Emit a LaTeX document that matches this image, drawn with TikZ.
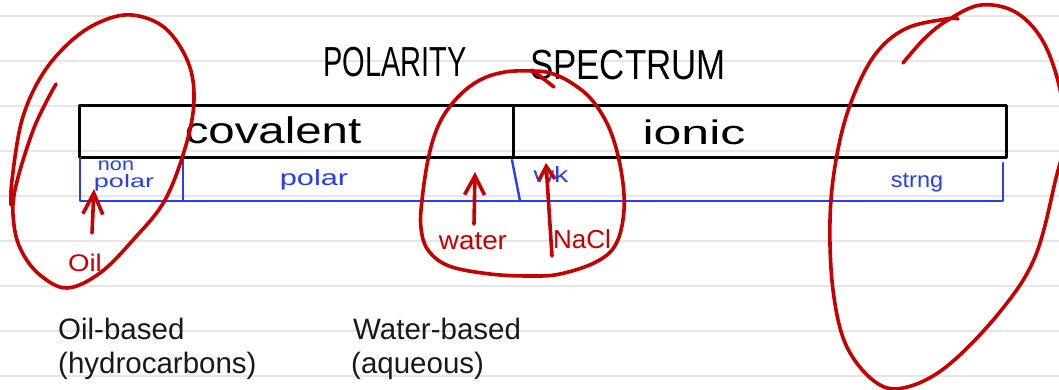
\documentclass[tikz,border=0pt]{standalone}
\usepackage{fontspec}
\setmainfont{Liberation Sans}
\usepackage{graphicx}
\usetikzlibrary{arrows.meta}
\definecolor{pen}{RGB}{200,0,0}
\definecolor{ink}{RGB}{40,60,250}
\definecolor{ruleline}{RGB}{230,230,230}
\definecolor{typed}{RGB}{25,25,25}
\newcommand{\wide}[2]{\scalebox{#1}[1]{#2}}
\begin{document}
\begin{tikzpicture}[x=1pt,y=-1pt,line join=round,line cap=round,
  ruled/.style={ruleline,line width=2pt},
  bandbox/.style={draw=black,line width=2.6pt,minimum height=52pt,inner sep=0pt,anchor=north west},
  blueline/.style={ink,line width=2.4pt},
  redpen/.style={pen,line width=3.6pt},
  hand/.style={inner sep=0pt,text=black},
  bluehand/.style={inner sep=0pt,text=ink},
  redhand/.style={inner sep=0pt,text=pen},
  typedtext/.style={inner sep=0pt,anchor=base west,text=typed,font=\fontsize{29.5}{34}\selectfont},
  redarrow/.style={redpen,-{Straight Barb[length=#1pt,width=20pt]}},
  redarrow/.default=20]
\useasboundingbox (0,0) rectangle (1059,390);
\fill[white] (0,0) rectangle (1059,390);
% ruled paper
\foreach \yy in {16,61,106,151,196,241,286,331,376}
  \draw[ruled] (0,\yy) -- (1059,\yy);
% title
\node[hand,anchor=base,font=\fontsize{42}{46}\selectfont] (title1) at (395,77) {\wide{0.69}{POLARITY}};
\node[hand,anchor=base,font=\fontsize{42}{46}\selectfont] (title2) at (628,80) {\wide{0.83}{SPECTRUM}};
% covalent / ionic band
\node[bandbox,minimum width=434pt] (cov) at (78,104) {};
\node[bandbox,minimum width=493pt] (ion) at (512,104) {};
\node[hand,anchor=base,font=\fontsize{37}{40}\selectfont] (covtxt) at (273,144) {\wide{1.28}{covalent}};
\node[hand,anchor=base,font=\fontsize{34}{38}\selectfont] (iontxt) at (694,145) {\wide{1.47}{ionic}};
% blue sub-band
\coordinate (bl) at (80,158);
\draw[blueline] (bl) -- (80,201) -- (1003,201) -- (1003,163);
\draw[blueline] (183,158) -- (183,201);
\draw[blueline] (512,160) -- (520,201);
\node[bluehand,font=\fontsize{18}{20}\selectfont] (non) at (116,166) {\wide{1.2}{non}};
\node[bluehand,font=\fontsize{18}{20}\selectfont] (nonpolar) at (124,183) {\wide{1.5}{polar}};
\node[bluehand,font=\fontsize{22}{24}\selectfont] (polar) at (314,180) {\wide{1.4}{polar}};
\node[bluehand,font=\fontsize{22}{24}\selectfont] (wk) at (551,175) {\wide{1.3}{wk}};
\node[bluehand,font=\fontsize{22}{24}\selectfont] (strng) at (917,183) {\wide{1.07}{strng}};
% red annotations
\node[redhand,font=\fontsize{24}{26}\selectfont] (oil) at (85,263) {\wide{1.15}{Oil}};
\node[redhand,font=\fontsize{26}{28}\selectfont] (water) at (473,241) {\wide{1.07}{water}};
\node[redhand,font=\fontsize{26}{28}\selectfont] (nacl) at (582,239) {NaCl};
\coordinate (oiltail) at (92,233);
\coordinate (oilhead) at (94,189);
\coordinate (watertail) at (474,224);
\coordinate (waterhead) at (475,172);
\coordinate (nacltail) at (552,256);
\coordinate (naclhead) at (546,163);
\draw[redarrow=21] (oiltail) -- (oilhead);
\draw[redarrow=19] (watertail) -- (waterhead);
\draw[redpen,-{Straight Barb[length=13pt,width=16pt]}] (nacltail) -- (naclhead);
% left loop
\draw[redpen] plot[smooth,tension=0.6] coordinates {(56,84) (34,128) (15,190) (14,225) (22,252) (40,275) (67,288) (100,273) (133,240) (165,200) (186,145) (194,100) (188,62) (165,28) (132,15) (100,22) (70,42) (42,75) (22,120) (12,180) (11,205)};
% middle loop
\draw[redpen] (554,87) -- (532,70);
\draw[redpen] plot[smooth cycle,tension=0.6] coordinates {(532,71) (505,72) (480,80) (458,97) (440,122) (429,155) (422,200) (421,228) (428,250) (449,266) (490,274) (530,276) (560,274) (596,262) (616,244) (624,210) (621,170) (610,130) (592,100) (570,82) (550,73)};
% right loop
\draw[redpen] plot[smooth,tension=0.6] coordinates {(903,63) (925,38) (948,20) (981,5) (1017,13) (1045,45) (1062,100) (1062,150) (1056,178) (1035,257) (999,313) (946,367) (903,388) (874,381) (846,345) (833,290) (830,220) (836,160) (850,105) (874,56) (905,29) (946,19) (958,19)};
% typed captions
\node[typedtext] (oilb1) at (58,339) {Oil-based};
\node[typedtext] (oilb2) at (58,373) {(hydrocarbons)};
\node[typedtext] (watb1) at (353,339) {Water-based};
\node[typedtext] (watb2) at (351,373) {(aqueous)};
\end{tikzpicture}
\end{document}
